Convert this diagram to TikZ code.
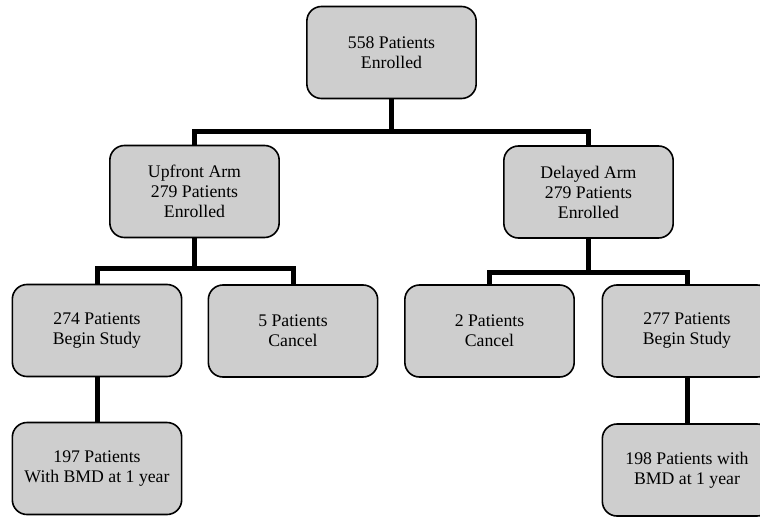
\documentclass[tikz,border=0pt]{standalone}
\usepackage{fontspec}
\setmainfont{Liberation Serif}
\usetikzlibrary{positioning}
\definecolor{boxgray}{RGB}{206,206,206}

\begin{document}
\begin{tikzpicture}[x=0.75pt,y=-0.75pt,
    box/.style={draw,line width=1.2pt,rounded corners=11pt,fill=boxgray,
        minimum width=127pt,minimum height=69pt,inner sep=0pt,align=center,
        font=\fontsize{13.3}{15}\selectfont},
    link/.style={line width=3.75pt}]
\useasboundingbox (0,0) rectangle (760,517);
\node [box] (enrolled) at (391.5,52.5) {558 Patients\\Enrolled};
\node [box] (upfront) at (194.5,191.5) {Upfront Arm\\279 Patients\\Enrolled};
\node [box] (delayed) at (588.5,192) {Delayed Arm\\279 Patients\\Enrolled};
\node [box] (upbegin) at (97,330.5) {274 Patients\\Begin Study};
\node [box] (upcancel) at (293,331) {5 Patients\\Cancel};
\node [box] (delcancel) at (489.5,331) {2 Patients\\Cancel};
\node [box] (delbegin) at (687,331) {277 Patients\\Begin Study};
\node [box] (upbmd) at (97,468.5) {197 Patients\\With BMD at 1 year};
\node [box] (delbmd) at (687,470) {198 Patients with\\BMD at 1 year};
% connectors
\draw [link] (enrolled.south) -- ++(0,33);
\draw [link] (upfront.north) -- ++(0,-13) -| (delayed.north);
\draw [link] (upfront.south) -- ++(0,31);
\draw [link] (upbegin.north) -- ++(0,-15) -| (upcancel.north);
\draw [link] (delayed.south) -- ++(0,35);
\draw [link] (delcancel.north) -- ++(0,-12) -| (delbegin.north);
\draw [link] (upbegin.south) -- (upbmd.north);
\draw [link] (delbegin.south) -- (delbmd.north);
\end{tikzpicture}
\end{document}
